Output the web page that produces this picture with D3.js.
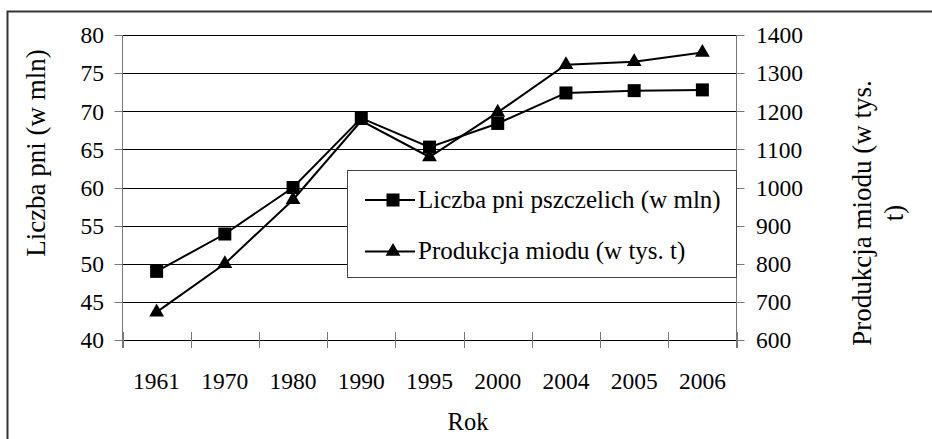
<!DOCTYPE html>
<html><head><meta charset="utf-8">
<script src="https://cdn.jsdelivr.net/npm/d3@7"></script>
<style>html,body{margin:0;padding:0;background:#fff;}</style></head>
<body><svg id="c" width="932" height="439"></svg>
<script>
const years = ["1961","1970","1980","1990","1995","2000","2004","2005","2006"];
const hives = [49.0, 53.9, 60.0, 69.1, 65.3, 68.4, 72.4, 72.7, 72.8];
const honey = [673, 800, 968, 1175, 1080, 1197, 1322, 1330, 1354];
const leftTicks = [40,45,50,55,60,65,70,75,80];
const rightTicks = [600,700,800,900,1000,1100,1200,1300,1400];
const seriesNames = ["Liczba pni pszczelich (w mln)", "Produkcja miodu (w tys. t)"];

const FONT = "Liberation Serif";
const svg = d3.select("#c");
const L = 122.5, R = 736.5, T = 35, B = 340;

function txt(sel, fs) {
  return sel.attr("font-family", FONT).attr("font-size", fs)
    .style("font-family", "'Liberation Serif'").style("font-size", fs + "px").attr("fill", "#000");
}

const x = d3.scaleBand().domain(years).range([L, R]).padding(0);
const yL = d3.scaleLinear().domain([40, 80]).range([B, T]);
const yR = d3.scaleLinear().domain([600, 1400]).range([B, T]);

// outer frame
svg.append("rect").attr("x", 7.5).attr("y", 11.5).attr("width", 1000).attr("height", 1000)
  .attr("fill", "none").attr("stroke", "#333").attr("stroke-width", 2);

// gridlines
svg.append("g").selectAll("line").data(leftTicks).join("line")
  .attr("x1", L).attr("x2", R)
  .attr("y1", d => Math.round(yL(d)) + 0.5).attr("y2", d => Math.round(yL(d)) + 0.5)
  .attr("stroke", "#000").attr("stroke-width", 1);

// left axis
svg.append("line").attr("x1", L).attr("x2", L).attr("y1", T).attr("y2", B + 8).attr("stroke", "#777");
svg.append("g").selectAll("line").data(leftTicks).join("line")
  .attr("x1", L - 8).attr("x2", L)
  .attr("y1", d => Math.round(yL(d)) + 0.5).attr("y2", d => Math.round(yL(d)) + 0.5).attr("stroke", "#777");
txt(svg.append("g").selectAll("text").data(leftTicks).join("text")
  .attr("x", 104).attr("y", d => yL(d) + 8.3).attr("text-anchor", "end").text(d => d), 23.5);

// right axis
svg.append("line").attr("x1", R).attr("x2", R).attr("y1", T).attr("y2", B + 8).attr("stroke", "#777");
svg.append("g").selectAll("line").data(rightTicks).join("line")
  .attr("x1", R).attr("x2", R + 8)
  .attr("y1", d => Math.round(yR(d)) + 0.5).attr("y2", d => Math.round(yR(d)) + 0.5).attr("stroke", "#777");
txt(svg.append("g").selectAll("text").data(rightTicks).join("text")
  .attr("x", 756).attr("y", d => yR(d) + 8.3).attr("text-anchor", "start").text(d => d), 23.5);

// x axis: ticks at band boundaries, labels at centers
const bounds = years.map(d => x(d)).concat([R]);
svg.append("g").selectAll("line").data(bounds).join("line")
  .attr("x1", d => Math.round(d) + 0.5).attr("x2", d => Math.round(d) + 0.5)
  .attr("y1", B - 8).attr("y2", B + 8).attr("stroke", "#777");
txt(svg.append("g").selectAll("text").data(years).join("text")
  .attr("x", d => x(d) + x.bandwidth() / 2).attr("y", 389)
  .attr("text-anchor", "middle").text(d => d), 23.5);

// axis titles
txt(svg.append("text").attr("transform", `translate(45,153) rotate(-90)`)
  .attr("text-anchor", "middle").text("Liczba pni (w mln)"), 27);
const rt = txt(svg.append("text").attr("transform", `translate(871,213) rotate(-90)`)
  .attr("text-anchor", "middle"), 27);
rt.append("tspan").attr("x", 0).attr("dy", 0).text("Produkcja miodu (w tys.");
rt.append("tspan").attr("x", 0).attr("dy", 32).text("t)");
txt(svg.append("text").attr("x", 468).attr("y", 430).attr("text-anchor", "middle").text("Rok"), 24.5);

// lines
const cx = d => x(d) + x.bandwidth() / 2;
const lineL = d3.line().x((d, i) => cx(years[i])).y(d => yL(d));
const lineR = d3.line().x((d, i) => cx(years[i])).y(d => yR(d));
svg.append("path").datum(hives).attr("d", lineL).attr("fill", "none").attr("stroke", "#000").attr("stroke-width", 2);
svg.append("path").datum(honey).attr("d", lineR).attr("fill", "none").attr("stroke", "#000").attr("stroke-width", 2);

const sq = d3.symbol().type(d3.symbolSquare).size(13 * 13);
const tri = d3.symbol().type(d3.symbolTriangle).size(95);
svg.append("g").selectAll("path").data(honey).join("path")
  .attr("transform", (d, i) => `translate(${cx(years[i])},${yR(d)})`).attr("d", tri).attr("fill", "#000");
svg.append("g").selectAll("path").data(hives).join("path")
  .attr("transform", (d, i) => `translate(${cx(years[i])},${yL(d)})`).attr("d", sq).attr("fill", "#000");

// legend
const lg = svg.append("g");
lg.append("rect").attr("x", 347.5).attr("y", 170.5).attr("width", 389).attr("height", 107)
  .attr("fill", "#fff").attr("stroke", "#444").attr("stroke-width", 1);
const rows = [200, 251.5];
seriesNames.forEach((name, i) => {
  lg.append("line").attr("x1", 365).attr("x2", 415).attr("y1", rows[i]).attr("y2", rows[i])
    .attr("stroke", "#000").attr("stroke-width", 2);
  lg.append("path").attr("transform", `translate(393,${rows[i]})`).attr("d", i === 0 ? sq : tri).attr("fill", "#000");
  txt(lg.append("text").attr("x", 418).attr("y", rows[i] + 7.5).text(name), 25);
});
</script></body></html>
